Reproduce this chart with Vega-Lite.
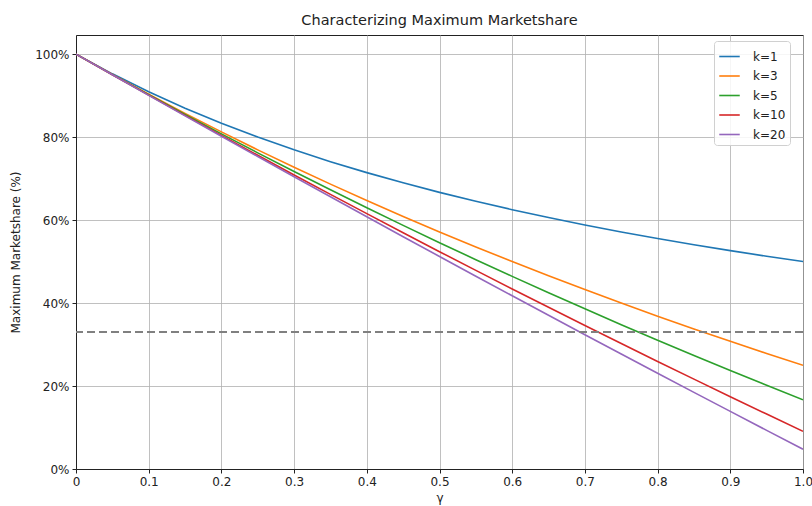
{
  "$schema": "https://vega.github.io/schema/vega-lite/v6.json",
  "width": 727,
  "height": 434,
  "autosize": {"type": "none"},
  "padding": {"left": 76, "top": 35, "right": 9, "bottom": 37},
  "background": "white",
  "title": {"text": "Characterizing Maximum Marketshare", "font": "DejaVu Sans", "fontSize": 14.5, "fontWeight": "normal", "color": "#222", "offset": 7},
  "config": {
    "view": {"stroke": "#222", "strokeWidth": 1},
    "axis": {"labelFont": "DejaVu Sans", "titleFont": "DejaVu Sans", "labelFontSize": 12, "titleFontSize": 12, "titleFontWeight": "normal", "labelColor": "#222", "titleColor": "#222", "gridColor": "#b0b0b0", "gridWidth": 1, "gridOpacity": 0.8, "tickColor": "#222", "domainColor": "#222", "tickSize": 4},
    "legend": {"labelFont": "DejaVu Sans", "labelFontSize": 12}
  },
  "datasets": {
    "d": [
      {"g":0,"k":"k=1","v":1},{"g":0.05,"k":"k=1","v":0.9524},{"g":0.1,"k":"k=1","v":0.9091},{"g":0.15,"k":"k=1","v":0.8696},{"g":0.2,"k":"k=1","v":0.8333},{"g":0.25,"k":"k=1","v":0.8},{"g":0.3,"k":"k=1","v":0.7692},{"g":0.35,"k":"k=1","v":0.7407},{"g":0.4,"k":"k=1","v":0.7143},{"g":0.45,"k":"k=1","v":0.6897},{"g":0.5,"k":"k=1","v":0.6667},{"g":0.55,"k":"k=1","v":0.6452},{"g":0.6,"k":"k=1","v":0.625},{"g":0.65,"k":"k=1","v":0.6061},{"g":0.7,"k":"k=1","v":0.5882},{"g":0.75,"k":"k=1","v":0.5714},{"g":0.8,"k":"k=1","v":0.5556},{"g":0.85,"k":"k=1","v":0.5405},{"g":0.9,"k":"k=1","v":0.5263},{"g":0.95,"k":"k=1","v":0.5128},{"g":1,"k":"k=1","v":0.5},
      {"g":0,"k":"k=3","v":1},{"g":0.05,"k":"k=3","v":0.9508},{"g":0.1,"k":"k=3","v":0.9032},{"g":0.15,"k":"k=3","v":0.8571},{"g":0.2,"k":"k=3","v":0.8125},{"g":0.25,"k":"k=3","v":0.7692},{"g":0.3,"k":"k=3","v":0.7273},{"g":0.35,"k":"k=3","v":0.6866},{"g":0.4,"k":"k=3","v":0.6471},{"g":0.45,"k":"k=3","v":0.6087},{"g":0.5,"k":"k=3","v":0.5714},{"g":0.55,"k":"k=3","v":0.5352},{"g":0.6,"k":"k=3","v":0.5},{"g":0.65,"k":"k=3","v":0.4658},{"g":0.7,"k":"k=3","v":0.4324},{"g":0.75,"k":"k=3","v":0.4},{"g":0.8,"k":"k=3","v":0.3684},{"g":0.85,"k":"k=3","v":0.3377},{"g":0.9,"k":"k=3","v":0.3077},{"g":0.95,"k":"k=3","v":0.2785},{"g":1,"k":"k=3","v":0.25},
      {"g":0,"k":"k=5","v":1},{"g":0.05,"k":"k=5","v":0.9505},{"g":0.1,"k":"k=5","v":0.902},{"g":0.15,"k":"k=5","v":0.8544},{"g":0.2,"k":"k=5","v":0.8077},{"g":0.25,"k":"k=5","v":0.7619},{"g":0.3,"k":"k=5","v":0.717},{"g":0.35,"k":"k=5","v":0.6729},{"g":0.4,"k":"k=5","v":0.6296},{"g":0.45,"k":"k=5","v":0.5872},{"g":0.5,"k":"k=5","v":0.5455},{"g":0.55,"k":"k=5","v":0.5045},{"g":0.6,"k":"k=5","v":0.4643},{"g":0.65,"k":"k=5","v":0.4248},{"g":0.7,"k":"k=5","v":0.386},{"g":0.75,"k":"k=5","v":0.3478},{"g":0.8,"k":"k=5","v":0.3103},{"g":0.85,"k":"k=5","v":0.2735},{"g":0.9,"k":"k=5","v":0.2373},{"g":0.95,"k":"k=5","v":0.2017},{"g":1,"k":"k=5","v":0.1667},
      {"g":0,"k":"k=10","v":1},{"g":0.05,"k":"k=10","v":0.9502},{"g":0.1,"k":"k=10","v":0.901},{"g":0.15,"k":"k=10","v":0.8522},{"g":0.2,"k":"k=10","v":0.8039},{"g":0.25,"k":"k=10","v":0.7561},{"g":0.3,"k":"k=10","v":0.7087},{"g":0.35,"k":"k=10","v":0.6618},{"g":0.4,"k":"k=10","v":0.6154},{"g":0.45,"k":"k=10","v":0.5694},{"g":0.5,"k":"k=10","v":0.5238},{"g":0.55,"k":"k=10","v":0.4787},{"g":0.6,"k":"k=10","v":0.434},{"g":0.65,"k":"k=10","v":0.3897},{"g":0.7,"k":"k=10","v":0.3458},{"g":0.75,"k":"k=10","v":0.3023},{"g":0.8,"k":"k=10","v":0.2593},{"g":0.85,"k":"k=10","v":0.2166},{"g":0.9,"k":"k=10","v":0.1743},{"g":0.95,"k":"k=10","v":0.1324},{"g":1,"k":"k=10","v":0.0909},
      {"g":0,"k":"k=20","v":1},{"g":0.05,"k":"k=20","v":0.9501},{"g":0.1,"k":"k=20","v":0.9005},{"g":0.15,"k":"k=20","v":0.8511},{"g":0.2,"k":"k=20","v":0.802},{"g":0.25,"k":"k=20","v":0.7531},{"g":0.3,"k":"k=20","v":0.7044},{"g":0.35,"k":"k=20","v":0.656},{"g":0.4,"k":"k=20","v":0.6078},{"g":0.45,"k":"k=20","v":0.5599},{"g":0.5,"k":"k=20","v":0.5122},{"g":0.55,"k":"k=20","v":0.4647},{"g":0.6,"k":"k=20","v":0.4175},{"g":0.65,"k":"k=20","v":0.3705},{"g":0.7,"k":"k=20","v":0.3237},{"g":0.75,"k":"k=20","v":0.2771},{"g":0.8,"k":"k=20","v":0.2308},{"g":0.85,"k":"k=20","v":0.1847},{"g":0.9,"k":"k=20","v":0.1388},{"g":0.95,"k":"k=20","v":0.0931},{"g":1,"k":"k=20","v":0.0476}
    ],
    "ref": [{"y": 0.33}]
  },
  "layer": [
    {
      "data": {"name": "d"},
      "mark": {"type": "line", "strokeWidth": 1.6, "clip": true},
      "encoding": {
        "x": {"field": "g", "type": "quantitative", "scale": {"domain": [0, 1], "nice": false}, "axis": {"title": "γ", "values": [0,0.1,0.2,0.3,0.4,0.5,0.6,0.7,0.8,0.9,1.0], "labelExpr": "datum.value == 0 ? '0' : format(datum.value, '.1f')", "titlePadding": 5, "labelPadding": 3, "labelFlush": false}},
        "y": {"field": "v", "type": "quantitative", "scale": {"domain": [0, 1.046], "nice": false, "zero": false}, "axis": {"title": "Maximum Marketshare (%)", "values": [0,0.2,0.4,0.6,0.8,1.0], "format": ".0%", "titlePadding": 12, "labelPadding": 3}},
        "color": {"field": "k", "type": "nominal", "sort": ["k=1","k=3","k=5","k=10","k=20"], "scale": {"domain": ["k=1","k=3","k=5","k=10","k=20"], "range": ["#1f77b4","#ff7f0e","#2ca02c","#d62728","#9467bd"]},
          "legend": {"title": null, "orient": "none", "legendX": 638, "legendY": 6, "symbolType": "stroke", "symbolSize": 420, "symbolStrokeWidth": 1.6, "rowPadding": 1.5, "fillColor": "rgba(255,255,255,0.85)", "strokeColor": "#d0d0d0", "cornerRadius": 3, "padding": 4, "labelOffset": 12, "labelColor": "#222"}}
      }
    },
    {
      "data": {"name": "ref"},
      "mark": {"type": "rule", "strokeDash": [8, 4], "strokeWidth": 2, "color": "#808080"},
      "encoding": {"y": {"field": "y", "type": "quantitative"}}
    }
  ]
}
